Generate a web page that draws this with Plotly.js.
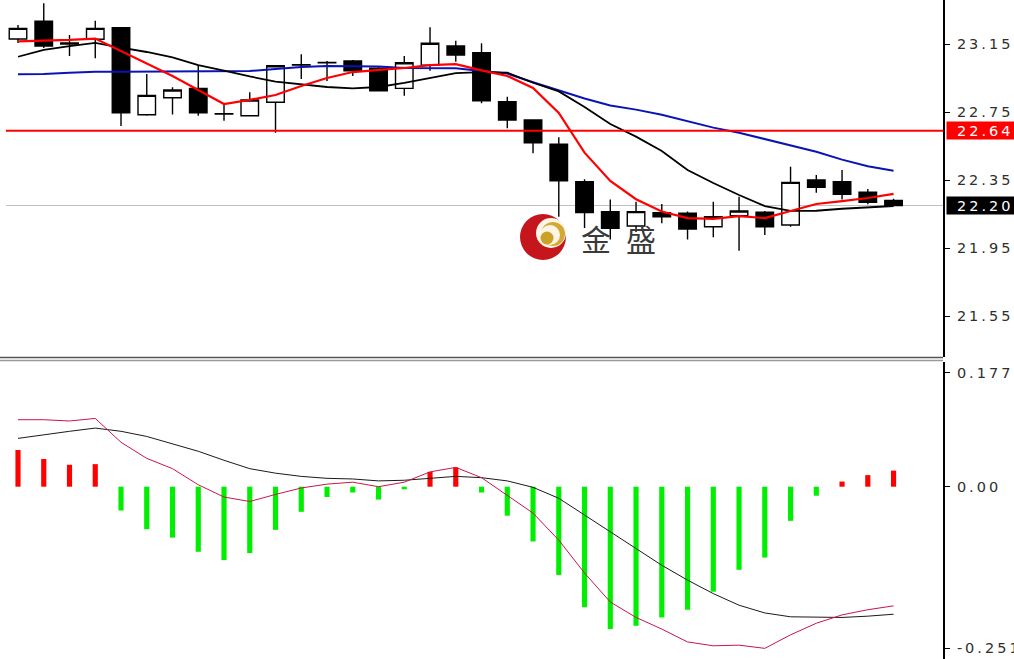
<!DOCTYPE html>
<html>
<head>
<meta charset="utf-8">
<script src="https://cdn.plot.ly/plotly-3.0.1.min.js"></script>
<style>
  html, body { margin: 0; padding: 0; background: #fff; }
  #chart { width: 1014px; height: 659px; }
  .yaxislayer-above text { letter-spacing: 3px; }
  .annotation[data-index="2"] text, .annotation[data-index="3"] text { letter-spacing: 3px; }
</style>
</head>
<body>
<div id="chart"></div>
<script>
// ---- price candles (35 bars) ----
const open  = [23.179, 23.284, 23.150, 23.178, 23.246, 22.734, 22.834, 22.889, 22.738, 22.728, 22.807, 23.026, 23.040, 23.050, 23.007, 22.889, 23.026, 23.138, 23.099, 22.811, 22.703, 22.560, 22.340, 22.164, 22.079, 22.158, 22.154, 22.075, 22.140, 22.160, 22.085, 22.350, 22.340, 22.278, 22.230];
const high  = [23.262, 23.389, 23.203, 23.287, 23.250, 22.974, 22.895, 23.026, 22.797, 22.866, 23.026, 23.089, 23.050, 23.056, 23.016, 23.079, 23.248, 23.169, 23.154, 22.840, 22.703, 22.601, 22.354, 22.236, 22.222, 22.209, 22.164, 22.222, 22.252, 22.168, 22.428, 22.379, 22.409, 22.297, 22.240];
const low   = [23.156, 23.126, 23.079, 23.066, 22.668, 22.728, 22.736, 22.728, 22.699, 22.725, 22.628, 22.944, 22.932, 22.962, 22.870, 22.846, 22.993, 23.046, 22.801, 22.654, 22.507, 22.134, 22.068, 22.000, 22.044, 22.095, 22.000, 22.013, 21.934, 22.026, 22.075, 22.275, 22.236, 22.207, 22.195];
const close = [23.242, 23.138, 23.156, 23.242, 22.746, 22.848, 22.879, 22.746, 22.740, 22.821, 23.022, 23.028, 23.042, 22.993, 22.875, 23.040, 23.154, 23.085, 22.816, 22.703, 22.569, 22.346, 22.159, 22.066, 22.164, 22.134, 22.062, 22.134, 22.168, 22.075, 22.336, 22.307, 22.266, 22.219, 22.200];

// ---- moving averages ----
const maFast = [23.165, 23.169, 23.174, 23.182, 23.109, 23.032, 22.962, 22.879, 22.797, 22.821, 22.850, 22.903, 22.950, 22.985, 22.997, 23.009, 23.026, 23.032, 22.995, 22.962, 22.891, 22.744, 22.511, 22.344, 22.237, 22.165, 22.126, 22.121, 22.138, 22.126, 22.168, 22.209, 22.226, 22.244, 22.268];
const maMid  = [23.075, 23.115, 23.138, 23.156, 23.129, 23.103, 23.071, 23.026, 22.994, 22.959, 22.929, 22.915, 22.897, 22.889, 22.897, 22.921, 22.948, 22.979, 22.985, 22.982, 22.922, 22.871, 22.779, 22.679, 22.605, 22.521, 22.409, 22.332, 22.262, 22.197, 22.168, 22.169, 22.181, 22.191, 22.197];
const maSlow = [22.972, 22.974, 22.981, 22.987, 22.987, 22.987, 22.987, 22.987, 22.987, 22.991, 23.003, 23.015, 23.021, 23.021, 23.017, 23.009, 23.007, 23.007, 22.991, 22.976, 22.925, 22.879, 22.829, 22.788, 22.764, 22.734, 22.696, 22.658, 22.628, 22.592, 22.554, 22.516, 22.470, 22.431, 22.405];

// ---- MACD ----
const macdDif  = [0.104, 0.104, 0.102, 0.106, 0.069, 0.044, 0.028, 0.003, -0.016, -0.023, -0.012, -0.002, 0.004, 0.007, 0.000, 0.007, 0.023, 0.030, 0.014, -0.013, -0.041, -0.083, -0.134, -0.179, -0.203, -0.221, -0.241, -0.247, -0.246, -0.251, -0.230, -0.212, -0.199, -0.191, -0.185];
const macdDea  = [0.075, 0.081, 0.086, 0.091, 0.086, 0.078, 0.067, 0.055, 0.041, 0.028, 0.021, 0.016, 0.013, 0.012, 0.009, 0.010, 0.013, 0.016, 0.014, 0.009, -0.001, -0.018, -0.044, -0.070, -0.097, -0.122, -0.145, -0.166, -0.184, -0.196, -0.202, -0.203, -0.203, -0.201, -0.198];
const macdHist = [0.057, 0.043, 0.034, 0.035, -0.037, -0.066, -0.079, -0.101, -0.114, -0.103, -0.067, -0.039, -0.016, -0.009, -0.020, -0.004, 0.023, 0.030, -0.009, -0.045, -0.085, -0.137, -0.187, -0.221, -0.216, -0.203, -0.191, -0.163, -0.129, -0.110, -0.053, -0.014, 0.008, 0.018, 0.025];

// ---- axis ticks and levels ----
const priceTicks = [23.15, 22.75, 22.35, 21.95, 21.55];
const priceTickText = ['23.15', '22.75', '22.35', '21.95', '21.55'];
const macdTicks = [0.177, 0.00, -0.251];
const macdTickText = ['0.177', '0.00', '-0.251'];
const levelLine = 22.64;
const levelText = '22.64';
const lastPrice = close[close.length - 1];
const lastText = '22.20';
const watermark = '金\u2002盛';

const xs = close.map((_, i) => i);

// pixel helpers for layout decoration (plot area x: 6..943)
const pxX = px => (px - 6) / 937;
const pxY = py => (659 - py) / 659;

const labelFontFamily = 'DejaVu Sans, Verdana, sans-serif';
const tickFont = { family: labelFontFamily, size: 14.5, color: '#2e2e2e' };

const traces = [
  {
    type: 'candlestick', x: xs, open: open, high: high, low: low, close: close,
    xaxis: 'x', yaxis: 'y',
    increasing: { line: { color: '#000000', width: 1.4 }, fillcolor: '#ffffff' },
    decreasing: { line: { color: '#000000', width: 1.4 }, fillcolor: '#000000' },
    whiskerwidth: 0, hoverinfo: 'skip'
  },
  { type: 'scatter', mode: 'lines', x: xs, y: maSlow, xaxis: 'x', yaxis: 'y', line: { color: '#0a14b4', width: 2 }, hoverinfo: 'skip' },
  { type: 'scatter', mode: 'lines', x: xs, y: maMid, xaxis: 'x', yaxis: 'y', line: { color: '#000000', width: 1.8 }, hoverinfo: 'skip' },
  { type: 'scatter', mode: 'lines', x: xs, y: maFast, xaxis: 'x', yaxis: 'y', line: { color: '#ff0000', width: 2.2 }, hoverinfo: 'skip' },
  {
    type: 'bar', x: xs, y: macdHist, xaxis: 'x2', yaxis: 'y2', width: 0.2,
    marker: { color: macdHist.map(v => v >= 0 ? '#ff0000' : '#00ee00'), line: { width: 0 } },
    hoverinfo: 'skip'
  },
  { type: 'scatter', mode: 'lines', x: xs, y: macdDea, xaxis: 'x2', yaxis: 'y2', line: { color: '#1a1a1a', width: 1 }, hoverinfo: 'skip' },
  { type: 'scatter', mode: 'lines', x: xs, y: macdDif, xaxis: 'x2', yaxis: 'y2', line: { color: '#c8164a', width: 1 }, hoverinfo: 'skip' }
];

const xRange = [-0.466, 35.92];

const layout = {
  width: 1014, height: 659,
  margin: { l: 6, r: 71, t: 0, b: 0, pad: 0 },
  paper_bgcolor: '#ffffff', plot_bgcolor: '#ffffff',
  showlegend: false, hovermode: false, dragmode: false,
  boxgap: 0.15, boxgroupgap: 0.2,
  xaxis: { domain: [0, 1], range: xRange, visible: false, fixedrange: true, rangeslider: { visible: false }, anchor: 'y' },
  xaxis2: { domain: [0, 1], range: xRange, visible: false, fixedrange: true, anchor: 'y2' },
  yaxis: {
    domain: [pxY(357), 1], range: [21.3088, 23.4088], side: 'right', anchor: 'x',
    showgrid: false, zeroline: false, showline: true, linecolor: '#000000', linewidth: 2,
    ticks: 'outside', ticklen: 5, tickwidth: 1, tickcolor: '#000000',
    tickvals: priceTicks, ticktext: priceTickText, tickfont: tickFont, fixedrange: true,
    ticklabelstandoff: 4
  },
  yaxis2: {
    domain: [0, pxY(362)], range: [-0.2675, 0.1936], side: 'right', anchor: 'x2',
    showgrid: false, zeroline: false, showline: true, linecolor: '#000000', linewidth: 2,
    ticks: 'outside', ticklen: 5, tickwidth: 1, tickcolor: '#000000',
    tickvals: macdTicks, ticktext: macdTickText, tickfont: tickFont, fixedrange: true,
    ticklabelstandoff: 4
  },
  shapes: [
    { type: 'line', xref: 'paper', yref: 'y', x0: 0, x1: 1, y0: lastPrice, y1: lastPrice, line: { color: '#c0c0c0', width: 1 }, layer: 'below' },
    { type: 'line', xref: 'paper', yref: 'y', x0: 0, x1: 1, y0: levelLine, y1: levelLine, line: { color: '#ff0000', width: 2 }, layer: 'above' },
    { type: 'line', xref: 'paper', yref: 'paper', x0: pxX(0), x1: 1, y0: pxY(357.5), y1: pxY(357.5), line: { color: '#555555', width: 1.5 } },
    { type: 'line', xref: 'paper', yref: 'paper', x0: pxX(0), x1: 1, y0: pxY(360.5), y1: pxY(360.5), line: { color: '#9a9a9a', width: 1.5 } },
    { type: 'circle', xref: 'paper', yref: 'paper', xsizemode: 'pixel', ysizemode: 'pixel', xanchor: pxX(543), yanchor: pxY(237), x0: -23, x1: 23, y0: -23, y1: 23, fillcolor: '#c4161c', line: { width: 0 }, layer: 'below' },
    { type: 'circle', xref: 'paper', yref: 'paper', xsizemode: 'pixel', ysizemode: 'pixel', xanchor: pxX(551), yanchor: pxY(233), x0: -15, x1: 15, y0: -15, y1: 15, fillcolor: '#fdf6e6', line: { width: 0 }, layer: 'below' },
    { type: 'circle', xref: 'paper', yref: 'paper', xsizemode: 'pixel', ysizemode: 'pixel', xanchor: pxX(553), yanchor: pxY(234), x0: -12, x1: 12, y0: -12, y1: 12, fillcolor: '#d4a933', line: { width: 0 }, layer: 'below' },
    { type: 'circle', xref: 'paper', yref: 'paper', xsizemode: 'pixel', ysizemode: 'pixel', xanchor: pxX(550), yanchor: pxY(235), x0: -10, x1: 10, y0: -10, y1: 10, fillcolor: '#fdf6e6', line: { width: 0 }, layer: 'below' },
    { type: 'circle', xref: 'paper', yref: 'paper', xsizemode: 'pixel', ysizemode: 'pixel', xanchor: pxX(547), yanchor: pxY(238), x0: -6.5, x1: 6.5, y0: -6.5, y1: 6.5, fillcolor: '#c9a227', line: { width: 0 }, layer: 'below' }
  ],
  annotations: [
    // label boxes
    { xref: 'paper', yref: 'y', x: pxX(946), y: levelLine, xanchor: 'left', yanchor: 'middle', text: ' ', showarrow: false,
      bgcolor: '#ff0000', width: 68, height: 17, borderpad: 0, font: { size: 12 } },
    { xref: 'paper', yref: 'y', x: pxX(946), y: lastPrice, xanchor: 'left', yanchor: 'middle', text: ' ', showarrow: false,
      bgcolor: '#000000', width: 68, height: 17, borderpad: 0, font: { size: 12 } },
    // label texts
    { xref: 'paper', yref: 'y', x: pxX(956), y: levelLine, xanchor: 'left', yanchor: 'middle', text: levelText, showarrow: false,
      align: 'left', font: { family: labelFontFamily, size: 14.5, color: '#ffffff' }, borderpad: 0 },
    { xref: 'paper', yref: 'y', x: pxX(956), y: lastPrice, xanchor: 'left', yanchor: 'middle', text: lastText, showarrow: false,
      align: 'left', font: { family: labelFontFamily, size: 14.5, color: '#ffffff' }, borderpad: 0 },
    // watermark
    { xref: 'paper', yref: 'paper', x: pxX(618), y: pxY(238), xanchor: 'center', yanchor: 'middle', text: watermark, showarrow: false,
      font: { family: 'Noto Sans CJK SC, sans-serif', size: 30, color: '#3a3a3a' } }
  ]
};

Plotly.newPlot('chart', traces, layout, { staticPlot: true, displayModeBar: false });
</script>
</body>
</html>
